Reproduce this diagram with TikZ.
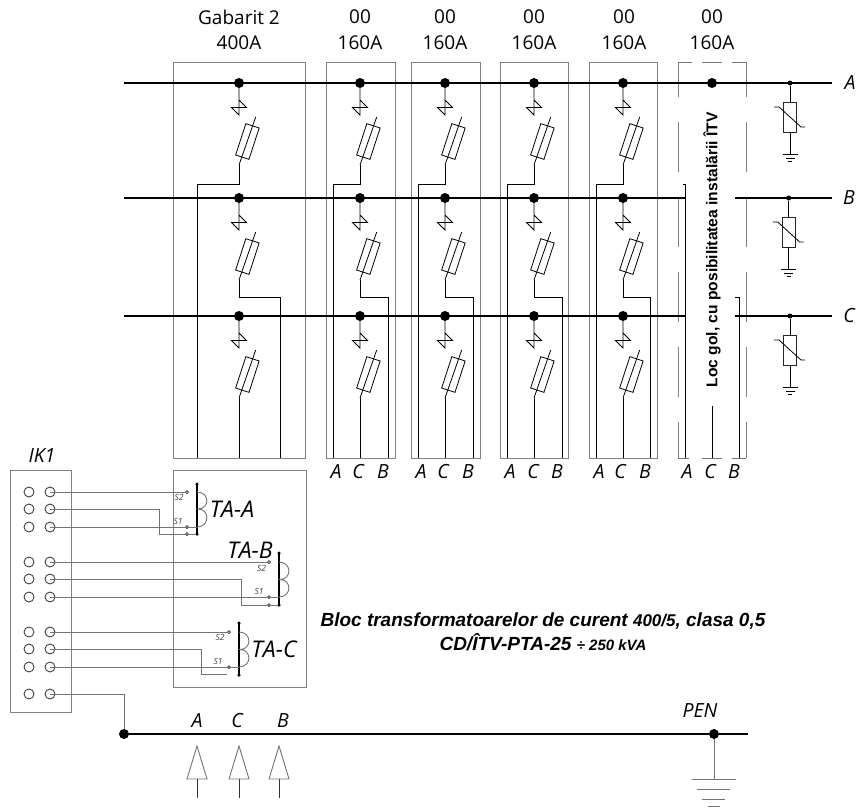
\documentclass[tikz,border=0pt]{standalone}
\usepackage{fontspec}
\setmainfont{Liberation Sans}
\newfontfamily\isofont{Open Sans}
\usetikzlibrary{
    positioning,
    calc
}
\tikzset{
  panel/.style = {
      draw=black!50,
      line width=0.9pt,
      rectangle,
      inner sep=0pt
  },
  bus/.style = {
      draw,
      line width=1.4pt
  },
  wire/.style = {
      draw,
      line width=0.95pt
  },
  signal/.style = {
      draw=black!55,
      line width=0.9pt
  },
  dashedside/.style = {
      draw=black!50,
      line width=0.9pt,
      dash pattern=on 50pt off 25pt,
      dash phase=14pt
  },
  busdot/.style = {
      circle,
      fill=black,
      minimum size=10pt,
      inner sep=0pt
  },
  smalldot/.style = {
      circle,
      fill=black,
      minimum size=5pt,
      inner sep=0pt
  },
  tinydot/.style = {
      circle,
      draw=black!80,
      line width=0.7pt,
      fill=white,
      minimum size=3pt,
      inner sep=0pt
  },
  term/.style = {
      circle,
      draw=black!75,
      line width=0.9pt,
      minimum size=10pt,
      inner sep=0pt
  },
  fuse/.style = {
      draw,
      line width=0.8pt,
      rectangle,
      rotate=72,
      minimum width=33pt,
      minimum height=14pt,
      inner sep=0pt
  },
  varistor/.style = {
      draw=black!85,
      line width=0.8pt,
      rectangle,
      minimum width=13pt,
      minimum height=30pt,
      inner sep=0pt
  },
  head/.style = {
      font=\isofont\fontsize{19}{22}\selectfont
  },
  tag/.style = {
      font=\isofont\itshape\fontsize{19.5}{22}\selectfont
  },
  tatag/.style = {
      font=\isofont\itshape\fontsize{23}{26}\selectfont
  },
  stag/.style = {
      font=\isofont\itshape\fontsize{8.5}{10}\selectfont,
      text=black!75
  },
  note/.style = {
      font=\bfseries\itshape\fontsize{19}{24}\selectfont,
      align=center
  }
}
\begin{document}
\begin{tikzpicture}[x=1pt,y=-1pt]
    \useasboundingbox (0,0) rectangle (857,807);
    % Panels
    \node[panel, minimum width=132pt, minimum height=396pt] (p1) at (239,260) {};
    \node[panel, minimum width=69pt, minimum height=396pt] (p2) at (360.5,260) {};
    \node[panel, minimum width=69pt, minimum height=396pt] (p3) at (445.7,260) {};
    \node[panel, minimum width=68pt, minimum height=396pt] (p4) at (534.3,260) {};
    \node[panel, minimum width=68pt, minimum height=396pt] (p5) at (623.5,260) {};
    \node[panel, minimum width=133pt, minimum height=217pt] (pta) at (239.5,579) {};
    \node[panel, minimum width=61pt, minimum height=242pt] (pik) at (40.5,591) {};
    % Empty panel
    \coordinate (e1) at (678,458);
    \coordinate (e2) at (678,62);
    \coordinate (e3) at (746,458);
    \coordinate (e4) at (746,62);
    \draw[dashedside] (e1) -- (e2);
    \draw[dashedside] (e3) -- (e4);
    \draw[signal] (678,62) -- (692,62) (702,62) -- (722,62) (732,62) -- (746,62);
    \draw[signal] (678,458) -- (689,458) (702,458) -- (722,458) (732,458) -- (746,458);
    % Busbars
    \coordinate (al) at (124,83);
    \coordinate (ar) at (832,83);
    \coordinate (bl) at (124,198);
    \coordinate (bm) at (686,198);
    \coordinate (bn) at (735,198);
    \coordinate (br) at (832,198);
    \coordinate (cl) at (124,316);
    \coordinate (cm) at (686,316);
    \coordinate (cn) at (735,316);
    \coordinate (cr) at (832,316);
    \path[bus]
    (al) -- (ar)
    (bl) -- (bm)
    (bn) -- (br)
    (cl) -- (cm)
    (cn) -- (cr);
    \node[tag, right=18pt of ar, anchor=center] (la) {A};
    \node[tag, right=17pt of br, anchor=center] (lb) {B};
    \node[tag, right=17pt of cr, anchor=center] (lc) {C};
    % Feeders
    \foreach \n/\x/\wa/\wb in {1/239/197/280, 2/360/333/388, 3/445/418/473, 4/534/507/562, 5/623/596/650} {
      \foreach \r/\y in {a/83, b/198, c/316} {
        \node[busdot] (d\n\r) at (\x,\y) {};
        \node[fuse] (f\n\r) at (\x+8.4,\y+58.5) {};
        \coordinate (u\n\r) at (\x+16.7,\y+34);
        \coordinate (v\n\r) at (\x,\y+82);
        \draw[wire] (d\n\r) -- ++(0,32) -- ++(-7.5,-7.5) -- ++(15,0) -- ++(-7.5,-7.5);
        \draw[line width=0.8pt] (u\n\r) -- (v\n\r);
      }
      \coordinate (ea\n) at (\wa,458);
      \coordinate (eb\n) at (\wb,458);
      \coordinate (ec\n) at (\x,458);
      \draw[wire] (v\n a) -- ++(0,19) -| (ea\n);
      \draw[wire] (v\n b) -- ++(0,17) -| (eb\n);
      \draw[wire] (v\n c) -- (ec\n);
    }
    % Wires of the empty panel
    \node[busdot] (d6a) at (712,83) {};
    \coordinate (w6a) at (683,184);
    \coordinate (z6a) at (685,458);
    \coordinate (w6c) at (712,406);
    \coordinate (z6c) at (712,458);
    \coordinate (w6b) at (735,297);
    \coordinate (z6b) at (739,458);
    \draw[wire] (w6a) -- (685,184) -- (z6a);
    \draw[wire] (w6c) -- (z6c);
    \draw[wire] (w6b) -| (z6b);
    \node[font=\bfseries\fontsize{15.6}{18}\selectfont, rotate=90] (gol) at (712,250) {Loc gol, cu posibilitatea instalării ÎTV};
    % Headers
    \node[head] (h1) at (239,17) {Gabarit 2};
    \foreach \n/\x in {2/360, 3/445, 4/534, 5/624, 6/712} {
      \node[head] (h\n) at (\x,17) {00};
      \node[head] (g\n) at (\x,43) {160A};
    }
    \node[head] (g1) at (239,43) {400A};
    % Phase marks under the panels
    \foreach \n/\a/\c/\b in {2/336/358/383, 3/421/443/468, 4/510/533/557, 5/599/620/645, 6/687/710/734} {
      \node[tag] (ma\n) at (\a,472) {A};
      \node[tag] (mc\n) at (\c,472) {C};
      \node[tag] (mb\n) at (\b,472) {B};
    }
    % Surge arresters
    \foreach \r/\x/\y in {a/790/83, b/788.7/198, c/790/316} {
      \node[smalldot] (sd\r) at (\x,\y) {};
      \node[varistor] (v\r) at (\x,\y+34) {};
      \coordinate (gr\r) at (\x,\y+71);
      \draw[line width=0.9pt] (sd\r) -- (v\r) -- (gr\r);
      \draw[line width=0.8pt] (\x-16,\y+24) -- ++(5,0) -- ++(22,20) -- ++(4,0);
      \draw[line width=1pt] (\x-7.5,\y+71) -- ++(15,0);
      \draw[line width=0.7pt] (\x-4.5,\y+75) -- ++(9,0);
      \draw[line width=0.7pt] (\x-2,\y+78) -- ++(4,0);
    }
    % Terminal strip
    \node[tag] (ik) at (42,456) {IK1};
    \foreach \i/\y in {1/492, 2/509, 3/527, 4/562, 5/579, 6/597, 7/632, 8/649, 9/667, 10/694} {
      \node[term] (l\i) at (29,\y) {};
      \node[term] (r\i) at (50,\y) {};
    }
    % Current transformers
    \foreach \n/\x/\ta/\tb/\tc/\tt/\te in {A/197/492/509/527/484/534, B/279/562/579.5/597/553/605, C/239/632/649.5/667/623/675} {
      \coordinate (top\n) at (\x,\tt);
      \coordinate (bot\n) at (\x,\te);
      \draw[line width=1.6pt] (top\n) -- (bot\n);
      \node[smalldot, minimum size=3.5pt] (tb\n) at (top\n) {};
      \node[smalldot, minimum size=3.5pt] (bb\n) at (bot\n) {};
      \node[tinydot] (s2\n) at (\x-10,\ta) {};
      \node[tinydot] (s1\n) at (\x-10,\tc) {};
      \draw[signal] (\x,\ta) .. controls (\x+13,\ta) and (\x+13,\tb) .. (\x+1,\tb)
                    .. controls (\x+13,\tb) and (\x+13,\tc) .. (\x,\tc);
    }
    \node[tinydot] (s3A) at (187,534) {};
    \node[tinydot] (s3B) at (269,605) {};
    % Secondary wiring
    \draw[signal] (r1.center) -- (s2A);
    \draw[signal] (r2.center) -| (159,534) -- (bbA);
    \draw[signal] (r3.center) -- (197,527);
    \draw[signal] (r4.center) -- (s2B);
    \draw[signal] (r5.center) -| (241.7,605) -- (bbB);
    \draw[signal] (r6.center) -- (279,597);
    \draw[signal] (r7.center) -- (s2C);
    \draw[signal] (r8.center) -| (201,674) -- (227,674);
    \draw[signal] (r9.center) -- (239,667);
    \node[stag] (a2) at (179,497) {S2};
    \node[stag] (a1) at (178,521) {S1};
    \node[stag] (b2) at (261.5,568) {S2};
    \node[stag] (b1) at (259,591) {S1};
    \node[stag] (c2) at (220,637) {S2};
    \node[stag] (c1) at (218,661) {S1};
    \node[tatag] (taa) at (232,509) {TA-A};
    \node[tatag] (tab) at (250,550) {TA-B};
    \node[tatag] (tac) at (274,649) {TA-C};
    % Caption
    \node[note] (cap) at (543,632) {Bloc transformatoarelor de curent {\fontsize{17}{24}\selectfont 400/5}, clasa 0,5\\CD/ÎTV-PTA-25 {\fontsize{15}{24}\selectfont ÷ 250 kVA}};
    % PEN
    \node[busdot] (pa) at (124,734) {};
    \node[busdot] (pb) at (714,734) {};
    \coordinate (pe) at (748,734);
    \path[bus] (pa) -- (pb) -- (pe);
    \draw[signal] (r10.center) -| (pa);
    \node[tag] (pen) at (700,711) {PEN};
    \coordinate (ge) at (714,779);
    \draw[signal] (pb) -- (ge);
    \draw[signal] (692,779) -- (736,779);
    \draw[signal] (697,789) -- (730,789);
    \draw[signal] (702,799) -- (725,799);
    \draw[signal] (708,806) -- (720,806);
    % Inputs
    \foreach \n/\x/\t in {A/197/197, C/239/237, B/279/283} {
      \node[tag] (i\n) at (\t,721) {\n};
      \coordinate (q\n) at (\x,779);
      \coordinate (o\n) at (\x,798);
      \draw[signal] (\x,746) -- (\x+10,779) -- (\x-10,779) -- cycle;
      \draw[wire, black!80] (q\n) -- (o\n);
    }
\end{tikzpicture}
\end{document}
